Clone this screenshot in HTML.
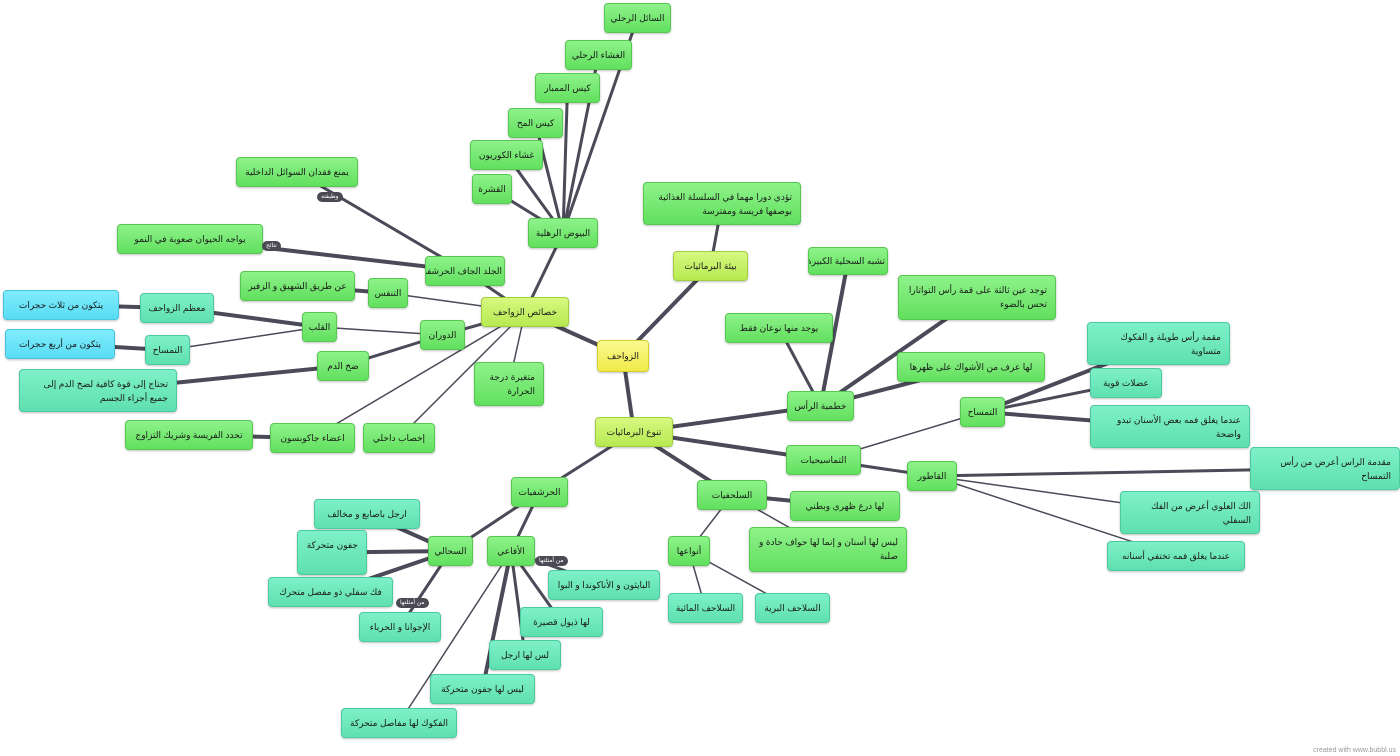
<!DOCTYPE html>
<html><head><meta charset="utf-8">
<style>
html,body{margin:0;padding:0;background:#fff;}
#c{position:relative;width:1400px;height:756px;overflow:hidden;font-family:"Liberation Sans","DejaVu Sans",sans-serif;}
svg{position:absolute;left:0;top:0;}
.n{position:absolute;box-sizing:border-box;border-radius:4px;font-size:9px;color:#1a1a1a;direction:rtl;text-align:right;padding:7px 8px 0 8px;line-height:14px;box-shadow:0 1px 2px rgba(0,0,0,.25);overflow:hidden;}
.n.one{white-space:nowrap;text-align:center;padding-left:2px;padding-right:2px;}
.g{background:linear-gradient(#8ef28a,#62e05e);border:1px solid #56c852;}
.t{background:linear-gradient(#7ff0c8,#5ee0b0);border:1px solid #4ccaa0;}
.b{background:linear-gradient(#80ecfc,#58dcf4);border:1px solid #48c4e0;}
.y{background:linear-gradient(#d8f880,#b6ea52);border:1px solid #a0d040;}
.c{background:linear-gradient(#fafa90,#f0ea48);border:1px solid #d8d030;}
.lb{position:absolute;background:#4a4a55;color:#fff;font-size:6px;border-radius:6px;padding:1px 4px;line-height:8px;direction:rtl;white-space:nowrap;}
.cr{position:absolute;right:4px;bottom:2px;font-size:7px;color:#999;}
</style></head><body>
<div id="c">
<svg id="s" width="1400" height="756"></svg>
</div>
<script>
var N={
c:[597,340,52,32,'c','الزواحف'],
k:[481,297,88,30,'y','خصائص الزواحف'],
bi:[673,251,75,30,'y','بيئة البرمائيات'],
tn:[595,417,78,30,'y','تنوع البرمائيات'],
s1:[604,3,67,30,'g','السائل الرحلي'],
s2:[565,40,67,30,'g','الغشاء الرحلي'],
s3:[535,73,65,30,'g','كيس الممبار'],
s4:[508,108,55,30,'g','كيس المح'],
s5:[470,140,73,30,'g','غشاء الكوريون'],
s6:[472,174,40,30,'g','القشرة'],
bu:[528,218,70,30,'g','البيوض الرهلية'],
ym:[236,157,122,30,'g','يمنع فقدان السوائل الداخلية'],
yw:[117,224,146,30,'g','يواجه الحيوان صعوبة في النمو'],
jl:[425,256,80,30,'g','الجلد الجاف الحرشفي'],
an:[240,271,115,30,'g','عن طريق الشهيق و الزفير'],
tf:[368,278,40,30,'g','التنفس'],
dw:[420,320,45,30,'g','الدوران'],
ql:[302,312,35,30,'g','القلب'],
mz:[140,293,74,30,'t','معظم الزواحف'],
y3:[3,290,116,30,'b','يتكون من ثلاث حجرات'],
tm:[145,335,45,30,'t','التمساح'],
y4:[5,329,110,30,'b','يتكون من أربع حجرات'],
dd:[317,351,52,30,'g','ضخ الدم'],
th:[19,369,158,43,'t','تحتاج إلى قوة كافية لضخ الدم إلى جميع أجزاء الجسم'],
mt:[474,362,70,44,'g','متغيرة درجة الحرارة'],
tf2:[125,420,128,30,'g','تحدد الفريسة وشريك التزاوج'],
aj:[270,423,85,30,'g','اعضاء جاكوبسون'],
ik:[363,423,72,30,'g','إخصاب داخلي'],
td:[643,182,158,43,'g','تؤدي دورا مهما في السلسلة الغذائية بوصفها فريسة ومفترسة'],
ts:[808,247,80,28,'g','تشبه السحلية الكبيرة'],
tw:[898,275,158,45,'g','توجد عين ثالثة على قمة رأس التواتارا تحس بالضوء'],
yn:[725,313,108,30,'g','يوجد منها نوعان فقط'],
la:[897,352,148,30,'g','لها عرف من الأشواك على ظهرها'],
kh:[787,391,67,30,'g','خطمية الرأس'],
tm2:[960,397,45,30,'g','التمساح'],
m1:[1087,322,143,43,'t','مقمة رأس طويلة و الفكوك متساوية'],
m2:[1090,368,72,30,'t','عضلات قوية'],
m3:[1090,405,160,43,'t','عندما يغلق فمه بعض الأسنان تبدو واضحة'],
tms:[786,445,75,30,'g','التماسيحيات'],
qa:[907,461,50,30,'g','القاطور'],
q1:[1250,447,150,43,'t','مقدمة الراس أعرض من رأس التمساح'],
q2:[1120,491,140,43,'t','الك العلوي أعرض من الفك السفلي'],
q3:[1107,541,138,30,'t','عندما يغلق فمه تختفي أسنانه'],
sl:[697,480,70,30,'g','السلحفيات'],
ld:[790,491,110,30,'g','لها درع ظهري وبطني'],
ls:[749,527,158,45,'g','ليس لها أسنان  و إنما لها حواف حادة و صلبة'],
an2:[668,536,42,30,'g','أنواعها'],
sm:[668,593,75,30,'t','السلاحف المائية'],
sb:[755,593,75,30,'t','السلاحف البرية'],
hr:[511,477,57,30,'g','الحرشفيات'],
sh:[428,536,45,30,'g','السحالي'],
af:[487,536,48,30,'g','الأفاعي'],
a1:[314,499,106,30,'t','ارجل باصابع و مخالف'],
a2:[297,530,70,45,'t','جفون متحركة'],
a3:[268,577,125,30,'t','فك سفلي ذو مفصل متحرك'],
a4:[359,612,82,30,'t','الإجوانا و الحرباء'],
b1:[548,570,112,30,'t','البايثون و الأناكوندا و البوا'],
b2:[520,607,83,30,'t','لها ذيول قصيرة'],
b3:[489,640,72,30,'t','لس لها ارجل'],
b4:[430,674,105,30,'t','ليس لها جفون متحركة'],
b5:[341,708,116,30,'t','الفكوك لها مفاصل متحركة']
};
var E=[
['c','k',4],['c','bi',4],['c','tn',4],
['k','bu',3],['bu','s1',3],['bu','s2',3],['bu','s3',3],['bu','s4',3],['bu','s5',3],['bu','s6',3],
['k','jl',3],['jl','ym',3],['jl','yw',4],['k','tf',1.5],['tf','an',4],['k','dw',3],['dw','ql',1.5],['ql','mz',4],['mz','y3',4],['ql','tm',1.5],['tm','y4',4],['dw','dd',3],['dd','th',4],
['k','mt',1.5],['k','aj',1.5],['aj','tf2',4],['k','ik',1.5],
['bi','td',3],
['tn','kh',4],['kh','ts',4],['kh','tw',4],['kh','yn',3],['kh','la',4],
['tn','tms',4],['tms','tm2',1.5],['tm2','m1',4],['tm2','m2',3],['tm2','m3',4],['tms','qa',3],['qa','q1',3],['qa','q2',1.5],['qa','q3',1.5],
['tn','sl',4],['sl','ld',4],['sl','ls',1.5],['sl','an2',1.5],['an2','sm',1.5],['an2','sb',1.5],
['tn','hr',3],['hr','sh',3],['hr','af',3],['sh','a1',4],['sh','a2',4],['sh','a3',4],['sh','a4',3],
['af','b1',3],['af','b2',3],['af','b3',3],['af','b4',4],['af','b5',1.5]
];
var s=document.getElementById('s'),c=document.getElementById('c');
function ctr(k){var n=N[k];return [n[0]+n[2]/2,n[1]+n[3]/2];}
E.forEach(function(e){var a=ctr(e[0]),b=ctr(e[1]);var l=document.createElementNS('http://www.w3.org/2000/svg','line');
l.setAttribute('x1',a[0]);l.setAttribute('y1',a[1]);l.setAttribute('x2',b[0]);l.setAttribute('y2',b[1]);
l.setAttribute('stroke','#4a4a58');l.setAttribute('stroke-width',e[2]);s.appendChild(l);});
for(var k in N){var n=N[k];var d=document.createElement('div');d.className='n '+n[4]+(n[3]<=32?' one':'');
d.style.left=n[0]+'px';d.style.top=n[1]+'px';d.style.width=n[2]+'px';d.style.height=n[3]+'px';
if(n[3]<=32){d.style.paddingTop=((n[3]-14)/2-1)+'px';}
d.textContent=n[5];c.appendChild(d);}
var L=[[317,192,'وظيفته'],[262,241,'نتائج'],[396,598,'من أمثلتها'],[535,556,'من أمثلتها']];
L.forEach(function(x){var d=document.createElement('div');d.className='lb';d.style.left=x[0]+'px';d.style.top=x[1]+'px';d.textContent=x[2];c.appendChild(d);});
var cr=document.createElement('div');cr.className='cr';cr.textContent='created with www.bubbl.us';c.appendChild(cr);
</script>
</body></html>
